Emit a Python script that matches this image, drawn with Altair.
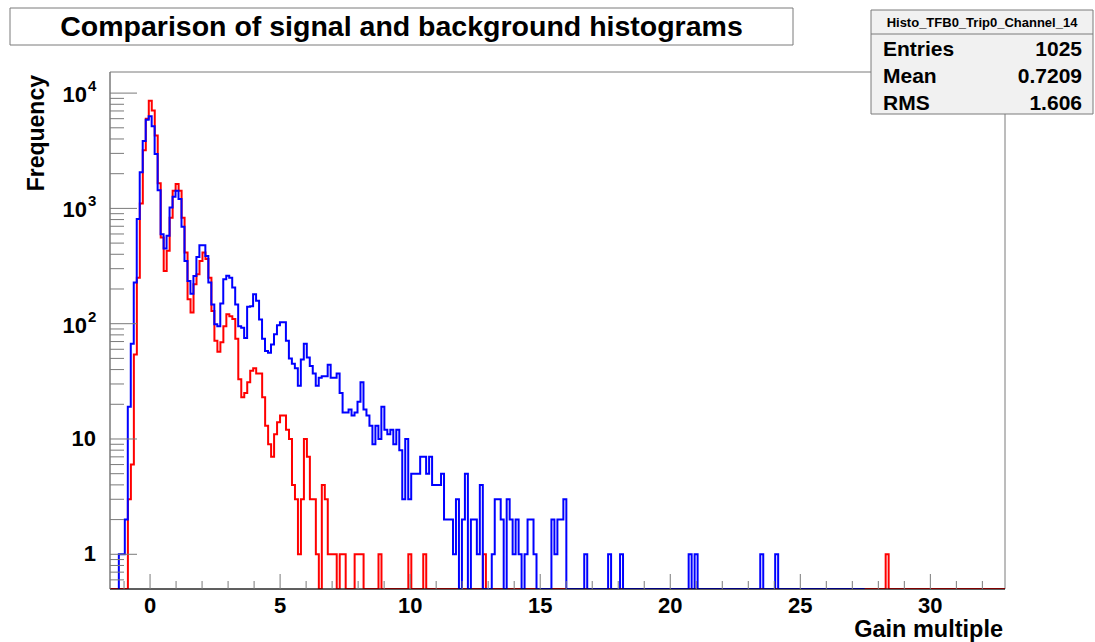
import altair as alt
import pandas as pd

# ---- histogram data (fixed-width bins) ----
BIN_WIDTH = 0.1147

# red histogram: 300 bins starting at -1.54
SIGNAL_START = -1.54
SIGNAL_NBINS = 300
SIGNAL_COUNTS = [
    0, 0, 0, 0, 0, 0, 3, 6, 54, 250,
    1100, 3200, 6000, 8600, 7070, 4280, 1650, 560, 287, 430,
    830, 1420, 1626, 1420, 830, 414, 163, 125, 220, 268,
    350, 414, 364, 250, 129, 71, 57, 69, 95, 121,
    116, 110, 74, 33, 23, 25, 31, 39, 41, 37,
    37, 23, 13, 9, 7, 11, 14, 16, 16, 12,
    10, 4, 3, 1, 3, 10, 7, 3, 3, 1,
    0, 4, 3, 1, 1, 1, 0, 1, 1, 0,
    0, 0, 1, 1, 1, 0, 0, 0, 0, 0,
    1,
]
SIGNAL_ISOLATED = {100: 1, 105: 1, 125: 1, 260: 1}

# blue histogram: 250 bins starting at -1.2
BACKGROUND_START = -1.2
BACKGROUND_NBINS = 250
BACKGROUND_COUNTS = [
    1, 1, 2, 19, 67, 228, 808, 2060, 3850, 5860,
    6300, 5160, 2970, 1440, 598, 449, 578, 1020, 1262, 1422,
    1205, 692, 350, 235, 182, 259, 379, 480, 480, 387,
    228, 147, 99, 95, 150, 243, 260, 250, 206, 147,
    95, 92, 75, 140, 142, 180, 158, 109, 74, 58,
    56, 66, 81, 97, 103, 103, 71, 50, 45, 41,
    29, 49, 67, 51, 43, 37, 29, 34, 35, 35,
    44, 34, 34, 37, 25, 17, 17, 18, 16, 17,
    21, 31, 18, 16, 13, 9, 13, 10, 19, 12,
    11, 12, 9, 12, 8, 3, 10, 3, 5, 5,
    5, 7, 7, 5, 7, 4, 4, 4, 5, 2,
    2, 2, 1, 3, 0, 2, 5, 0, 2, 2,
    1, 4, 0, 0, 0, 1, 3, 3, 2, 0,
    3, 2, 1, 2, 1, 0, 1, 2, 2, 1,
    0, 0, 0, 0, 0, 2, 1, 2, 2, 3,
]
BACKGROUND_ISOLATED = {156: 1, 164: 1, 168: 1, 191: 1, 193: 1, 215: 1, 220: 1}

# ---- axis ticks ----
X_MAJOR = [0, 5, 10, 15, 20, 25, 30]
X_MINOR = [-1, 1, 2, 3, 4, 6, 7, 8, 9, 11, 12, 13, 14, 16, 17, 18, 19,
           21, 22, 23, 24, 26, 27, 28, 29, 31, 32]
Y_MAJOR = [1, 10, 100, 1000, 10000]
Y_MINOR = [0.6, 0.7, 0.8, 0.9,
           2, 3, 4, 5, 6, 7, 8, 9,
           20, 30, 40, 50, 60, 70, 80, 90,
           200, 300, 400, 500, 600, 700, 800, 900,
           2000, 3000, 4000, 5000, 6000, 7000, 8000, 9000]
Y_PLAIN_LABELS = [("1", 1), ("10", 10)]
Y_POWER_LABELS = [("2", 100), ("3", 1000), ("4", 10000)]

STATS_NAMES = ["Entries", "Mean", "RMS"]
STATS_VALUES = ["1025", "0.7209", "1.606"]

TITLE = "Comparison of signal and background histograms"
STATS_HEADER = "Histo_TFB0_Trip0_Channel_14"

W, H = 895, 517
FONT = "Liberation Sans"
GRAY = "#7a7a7a"

xscale = alt.Scale(domain=[-1.54, 32.87], nice=False, zero=False)
yscale = alt.Scale(type="log", domain=[0.5, 15240], nice=False)
row_scale = alt.Scale(domain=[0, 2], range=[-16, 38])


def outline(start, nbins, counts, isolated, name):
    bins = list(counts) + [0] * (nbins - len(counts))
    for i, c in isolated.items():
        bins[i] = c
    rows = [{"x": start, "count": 0, "seq": 0}]
    for i, c in enumerate(bins):
        rows.append({"x": start + i * BIN_WIDTH, "count": c, "seq": i + 1})
    rows.append({"x": start + nbins * BIN_WIDTH, "count": 0, "seq": nbins + 1})
    df = pd.DataFrame(rows)
    df["hist"] = name
    return df


def hist_layer(df, color):
    return (
        alt.Chart(df)
        .transform_calculate(shown="max(datum.count, 0.5)")
        .mark_line(interpolate="step-after", color=color, strokeWidth=2, clip=True)
        .encode(
            x=alt.X("x:Q", scale=xscale, axis=None),
            y=alt.Y("shown:Q", scale=yscale, axis=None),
            order="seq:Q",
        )
    )


one = pd.DataFrame({"k": [0]})

frame = alt.Chart(one).mark_rect(fill="white", stroke=GRAY, strokeWidth=1).encode(
    x=alt.value(0), x2=alt.value(W), y=alt.value(0), y2=alt.value(H)
)

signal = hist_layer(outline(SIGNAL_START, SIGNAL_NBINS, SIGNAL_COUNTS,
                            SIGNAL_ISOLATED, "signal"), "#ff0000")
background = hist_layer(outline(BACKGROUND_START, BACKGROUND_NBINS, BACKGROUND_COUNTS,
                                BACKGROUND_ISOLATED, "background"), "#0000ff")

x_axis_line = alt.Chart(one).mark_rule(color="black", strokeWidth=1).encode(
    x=alt.value(0), x2=alt.value(W), y=alt.value(H)
)
y_axis_line = alt.Chart(one).mark_rule(color=GRAY, strokeWidth=1).encode(
    x=alt.value(0), y=alt.value(0), y2=alt.value(H)
)

x_major = alt.Chart(pd.DataFrame({"v": X_MAJOR})).mark_rule(color=GRAY).encode(
    x=alt.X("v:Q", scale=xscale, axis=None), y=alt.value(H), y2=alt.value(H - 15)
)
x_minor = alt.Chart(pd.DataFrame({"v": X_MINOR})).mark_rule(color=GRAY).encode(
    x=alt.X("v:Q", scale=xscale, axis=None), y=alt.value(H), y2=alt.value(H - 8)
)
y_major = alt.Chart(pd.DataFrame({"v": Y_MAJOR})).mark_rule(color=GRAY).encode(
    y=alt.Y("v:Q", scale=yscale, axis=None), x=alt.value(0), x2=alt.value(27)
)
y_minor = alt.Chart(pd.DataFrame({"v": Y_MINOR})).mark_rule(color=GRAY).encode(
    y=alt.Y("v:Q", scale=yscale, axis=None), x=alt.value(0), x2=alt.value(14)
)

x_labels = alt.Chart(pd.DataFrame({"v": X_MAJOR})).mark_text(
    font=FONT, fontWeight="bold", fontSize=22, baseline="middle", align="center"
).encode(
    x=alt.X("v:Q", scale=xscale, axis=None), y=alt.value(H + 17), text="v:Q"
)

y_plain = alt.Chart(pd.DataFrame(Y_PLAIN_LABELS, columns=["t", "v"])).mark_text(
    font=FONT, fontWeight="bold", fontSize=22, baseline="middle", align="right"
).encode(y=alt.Y("v:Q", scale=yscale, axis=None), x=alt.value(-14), text="t:N")

y_base = alt.Chart(pd.DataFrame(Y_POWER_LABELS, columns=["t", "v"])).mark_text(
    font=FONT, fontWeight="bold", fontSize=22, baseline="middle", align="right", dy=2
).encode(y=alt.Y("v:Q", scale=yscale, axis=None), x=alt.value(-23), text=alt.value("10"))
y_exp = alt.Chart(pd.DataFrame(Y_POWER_LABELS, columns=["t", "v"])).mark_text(
    font=FONT, fontWeight="bold", fontSize=15, baseline="middle", align="left", dy=-7
).encode(y=alt.Y("v:Q", scale=yscale, axis=None), x=alt.value(-22), text="t:N")

y_title = alt.Chart(one).mark_text(
    font=FONT, fontWeight="bold", fontSize=23, angle=270, align="right", baseline="middle"
).encode(x=alt.value(-73), y=alt.value(3), text=alt.value("Frequency"))
x_title = alt.Chart(one).mark_text(
    font=FONT, fontWeight="bold", fontSize=23.5, align="right", baseline="alphabetic"
).encode(x=alt.value(893), y=alt.value(565), text=alt.value("Gain multiple"))

title_box = alt.Chart(one).mark_rect(fill="white", stroke=GRAY, strokeWidth=1).encode(
    x=alt.value(-100), x2=alt.value(683), y=alt.value(-64), y2=alt.value(-27)
)
title_text = alt.Chart(one).mark_text(
    font=FONT, fontWeight="bold", fontSize=28.5, align="center", baseline="alphabetic"
).encode(x=alt.value(291.5), y=alt.value(-36), text=alt.value(TITLE))

stats_box = alt.Chart(one).mark_rect(fill="#f1f1f1", stroke=GRAY, strokeWidth=1).encode(
    x=alt.value(761), x2=alt.value(983), y=alt.value(-62), y2=alt.value(42)
)
stats_sep = alt.Chart(one).mark_rule(color=GRAY, strokeWidth=1).encode(
    x=alt.value(761), x2=alt.value(983), y=alt.value(-38)
)
stats_header = alt.Chart(one).mark_text(
    font=FONT, fontWeight="bold", fontSize=13, align="center", baseline="alphabetic"
).encode(x=alt.value(872), y=alt.value(-45), text=alt.value(STATS_HEADER))

stats_df = pd.DataFrame({"name": STATS_NAMES, "value": STATS_VALUES, "row": [0, 1, 2]})
stats_names = alt.Chart(stats_df).mark_text(
    font=FONT, fontWeight="bold", fontSize=21, align="left", baseline="alphabetic"
).encode(
    x=alt.value(773),
    y=alt.Y("row:Q", scale=row_scale, axis=None),
    text="name:N",
)
stats_values = alt.Chart(stats_df).mark_text(
    font=FONT, fontWeight="bold", fontSize=21, align="right", baseline="alphabetic"
).encode(
    x=alt.value(972),
    y=alt.Y("row:Q", scale=row_scale, axis=None),
    text="value:N",
)

chart = alt.layer(
    frame, signal, background, x_axis_line, y_axis_line,
    x_major, x_minor, y_major, y_minor,
    x_labels, y_plain, y_base, y_exp, y_title, x_title,
    title_box, title_text, stats_box, stats_sep, stats_header, stats_names, stats_values,
).resolve_scale(y="independent").properties(
    width=W, height=H,
    autosize=alt.AutoSizeParams(type="none"),
    padding={"left": 110, "top": 72, "right": 90, "bottom": 53},
).configure(background="white").configure_view(stroke=None)

chart.save("out.html", embed_options={"renderer": "svg", "actions": False})
